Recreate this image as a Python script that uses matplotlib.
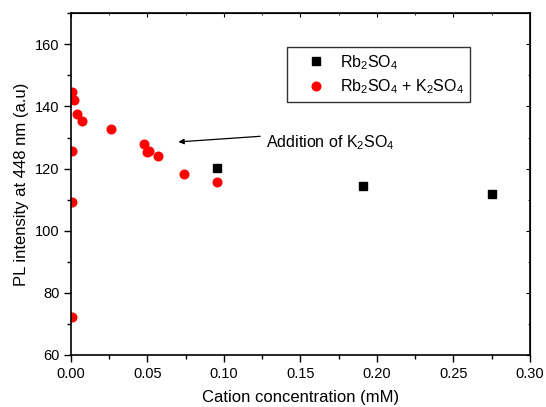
import matplotlib
matplotlib.use("Agg")
import matplotlib.pyplot as plt
from matplotlib.ticker import MultipleLocator

plt.rcParams['font.family'] = ['Liberation Sans', 'DejaVu Sans']
plt.rcParams['mathtext.fontset'] = 'custom'
plt.rcParams['mathtext.rm'] = 'Liberation Sans'
plt.rcParams['mathtext.it'] = 'Liberation Sans:italic'
plt.rcParams['mathtext.bf'] = 'Liberation Sans:bold'

# Rb2SO4 only
rb_conc = [0.0954, 0.191, 0.275]
rb_pl = [120.1, 114.4, 111.9]

# Rb2SO4 followed by K2SO4 additions
rbk_conc = [0.0008, 0.0008, 0.0008, 0.001, 0.002, 0.004, 0.0076, 0.0263,
            0.0479, 0.0497, 0.0514, 0.0573, 0.0743, 0.0954]
rbk_pl = [72.3, 109.3, 125.6, 144.7, 142.0, 137.7, 135.3, 132.8,
          127.8, 125.4, 125.7, 124.1, 118.4, 115.7]

x_ticks = [0, 0.05, 0.10, 0.15, 0.20, 0.25, 0.30]
x_labels = ['0.00', '0.05', '0.10', '0.15', '0.20', '0.25', '0.30']
y_ticks = [60, 80, 100, 120, 140, 160]

fig = plt.figure(figsize=(5.46, 4.07), dpi=100)
ax = fig.add_axes([0.1295, 0.1278, 0.8412, 0.8395])

ax.plot(rb_conc, rb_pl, linestyle='none', marker='s', color='black',
        markersize=5.2, label=r'Rb$_2$SO$_4$')
ax.plot(rbk_conc, rbk_pl, linestyle='none', marker='o', color='red',
        markersize=6.2, label=r'Rb$_2$SO$_4$ + K$_2$SO$_4$')

ax.set_xlim(0, 0.30)
ax.set_ylim(60, 170)
ax.set_xticks(x_ticks)
ax.set_xticklabels(x_labels)
ax.set_yticks(y_ticks)
ax.xaxis.set_minor_locator(MultipleLocator(0.025))
ax.yaxis.set_minor_locator(MultipleLocator(10))

ax.tick_params(axis='both', which='major', direction='out', length=5,
               width=1.0, labelsize=10.5)
ax.tick_params(axis='x', which='major', pad=4)
ax.tick_params(axis='y', which='major', pad=3)
ax.tick_params(axis='both', which='minor', direction='out', length=3, width=1.0)
for s in ax.spines.values():
    s.set_linewidth(1.2)

# mirrored inward ticks on top and right
axt = ax.secondary_xaxis('top')
axt.set_xticks(x_ticks)
axt.xaxis.set_minor_locator(MultipleLocator(0.025))
axt.tick_params(which='major', direction='in', length=3, labeltop=False)
axt.tick_params(which='minor', direction='in', length=1.5)
axr = ax.secondary_yaxis('right')
axr.set_yticks(y_ticks)
axr.yaxis.set_minor_locator(MultipleLocator(10))
axr.tick_params(which='major', direction='in', length=3, labelright=False)
axr.tick_params(which='minor', direction='in', length=1.5)

ax.set_xlabel('Cation concentration (mM)', fontsize=12, labelpad=6)
ax.set_ylabel('PL intensity at 448 nm (a.u)', fontsize=12, labelpad=4)

leg = ax.legend(loc='upper left', bbox_to_anchor=(0.4716, 0.9023),
                borderaxespad=0, fontsize=11.5,
                frameon=True, fancybox=False, edgecolor='black',
                handletextpad=0.1, borderpad=0.4, labelspacing=0.35,
                handlelength=2.8, markerscale=1.0)
leg.get_frame().set_linewidth(1.0)

ax.annotate('', xy=(0.0703, 128.6), xytext=(0.1237, 130.4),
            arrowprops=dict(arrowstyle='-|>', color='black', lw=0.9,
                            mutation_scale=8, shrinkA=0, shrinkB=0))
ax.text(0.1276, 127.0, r'Addition of K$_2$SO$_4$', fontsize=11.5,
        va='baseline', ha='left')

fig.savefig('out.png', dpi=100)
